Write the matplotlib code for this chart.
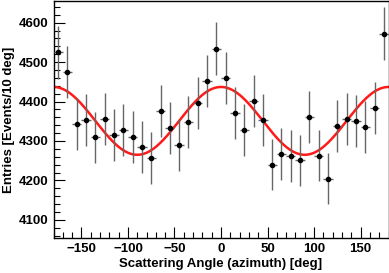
import matplotlib
matplotlib.use("Agg")
import matplotlib.pyplot as plt
import numpy as np
from matplotlib.ticker import MultipleLocator

plt.rcParams['font.family'] = ['Liberation Sans', 'DejaVu Sans']
plt.rcParams['font.weight'] = 'bold'

# bin centres of the azimuth histogram (10 deg bins)
angle = np.arange(-175, 180, 10)
counts = [4525, 4475, 4342, 4354, 4309, 4355, 4315, 4329, 4311,
          4284, 4257, 4376, 4333, 4290, 4348, 4397, 4452, 4534,
          4460, 4371, 4328, 4401, 4353, 4240, 4267, 4262, 4251,
          4361, 4263, 4204, 4338, 4356, 4351, 4335, 4384, 4572]
bin_half = 5
# fit: p0 + p1*cos(2*phi)
p0 = 4351
p1 = 86

counts = np.array(counts, dtype=float)
errors = np.sqrt(counts)

fig = plt.figure(figsize=(3.89, 2.73), dpi=100)
ax = fig.add_axes([53.5 / 389, 35 / 273, 335 / 389, 237 / 273])

ax.errorbar(angle, counts, yerr=errors, xerr=bin_half, fmt='o', color='black',
            ms=3, ecolor='#666666', elinewidth=1, capsize=0, zorder=3)

phi = np.linspace(-180, 180, 400)
ax.plot(phi, p0 + p1 * np.cos(np.radians(2 * phi)), color='#ff1a1a', lw=1.8, zorder=2)

ax.set_xlim(-180, 180)
ax.set_ylim(4054, 4655)
ax.xaxis.set_major_locator(MultipleLocator(50))
ax.xaxis.set_minor_locator(MultipleLocator(10))
ax.yaxis.set_major_locator(MultipleLocator(100))
ax.yaxis.set_minor_locator(MultipleLocator(20))
ax.tick_params(which='both', direction='in', top=False, right=False, labelsize=9.5, width=0.8)
ax.tick_params(which='major', length=8)
ax.tick_params(which='minor', length=4)
for lab in ax.get_xticklabels() + ax.get_yticklabels():
    lab.set_fontweight('bold')

ax.set_xlabel("Scattering Angle (azimuth) [deg]", fontsize=9.5, fontweight='bold', labelpad=2)
ax.set_ylabel("Entries [Events/10 deg]", fontsize=9.5, fontweight='bold', labelpad=3)

for s in ax.spines.values():
    s.set_linewidth(1)

fig.savefig("out.png", dpi=100)
